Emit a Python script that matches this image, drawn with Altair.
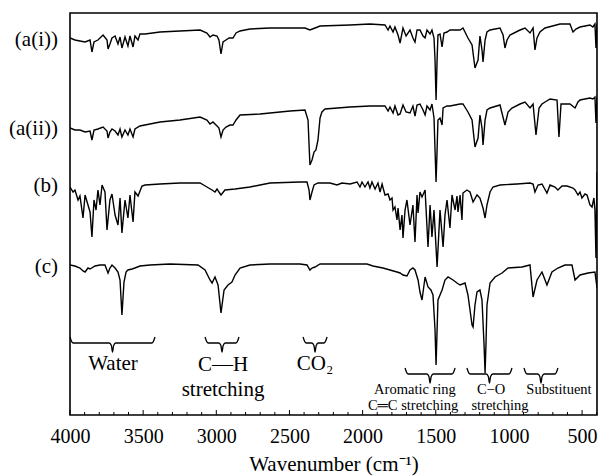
import altair as alt
import pandas as pd

# ---- spectra: (wavenumber cm^-1, relative transmittance in arbitrary units, offset per trace)
A_I = [(4000,377),(3966,375),(3932,374),(3897,373),(3863,375),(3850,363),(3836,373),(3809,375),
       (3774,380),(3747,375),(3740,366),(3727,371),(3713,377),(3692,379),(3672,371),(3658,378),
       (3645,367),(3624,378),(3604,369),(3590,379),(3569,368),(3556,379),(3535,375),(3522,381),
       (3487,381),(3385,383),(3248,384),(3111,385),(3064,382),(3043,378),(3023,380),(2995,379),
       (2982,375),(2968,361),(2954,373),(2934,375),(2913,377),(2886,377),(2865,382),(2838,384),
       (2770,386),(2633,387),(2428,387),(2394,387),(2360,385),(2325,387),(2291,389),(2086,390),
       (1950,391),(1847,390),(1826,385),(1813,389),(1792,383),(1779,388),(1758,380),(1744,372),
       (1724,387),(1703,379),(1676,385),(1656,377),(1642,373),(1628,385),(1608,385),(1587,379),
       (1573,377),(1560,385),(1539,381),(1526,385),(1512,377),(1505,355),(1498,315),(1491,355),
       (1485,380),(1471,381),(1457,368),(1444,382),(1423,383),(1403,385),(1368,385),(1334,385),
       (1314,387),(1280,377),(1252,370),(1232,347),(1211,355),(1198,379),(1184,365),(1177,353),
       (1163,375),(1150,383),(1129,385),(1061,387),(1040,380),(1027,367),(1013,375),(993,380),
       (924,385),(890,387),(856,382),(835,387),(822,365),(808,377),(788,383),(753,387),(651,391),
       (583,391),(562,383),(542,386),(514,388),(480,389),(446,390),(426,388),(412,391),(405,367),
       (398,391)]

A_II = [(4000,287),(3966,285),(3932,285),(3897,283),(3863,284),(3850,275),(3836,285),(3809,286),
        (3774,288),(3747,284),(3740,277),(3727,283),(3713,286),(3692,284),(3672,280),(3658,286),
        (3645,278),(3624,285),(3604,280),(3590,286),(3569,278),(3556,286),(3522,289),(3385,293),
        (3248,295),(3111,298),(3064,295),(3043,291),(3023,293),(2995,289),(2982,287),(2968,278),
        (2954,285),(2934,288),(2906,290),(2886,290),(2865,295),(2838,300),(2701,301),(2496,304),
        (2394,305),(2373,295),(2366,270),(2360,250),(2346,255),(2332,263),(2319,265),(2305,275),
        (2291,297),(2278,303),(2257,306),(2086,308),(1950,309),(1847,309),(1826,304),(1813,308),
        (1792,302),(1779,309),(1758,300),(1744,301),(1724,310),(1703,303),(1676,302),(1656,309),
        (1642,299),(1628,310),(1608,311),(1587,305),(1573,300),(1560,309),(1539,305),(1526,311),
        (1512,297),(1505,265),(1498,233),(1491,265),(1485,295),(1471,297),(1457,290),(1450,307),
        (1423,309),(1403,309),(1368,310),(1334,311),(1314,311),(1280,303),(1252,295),(1232,268),
        (1211,277),(1198,300),(1184,287),(1177,270),(1163,295),(1150,305),(1129,307),(1061,310),
        (1027,290),(1006,303),(979,307),(924,311),(890,313),(856,307),(835,311),(815,280),
        (794,307),(774,311),(753,313),(719,316),(671,315),(658,278),(644,311),(583,311),(548,307),
        (528,313),(514,315),(480,316),(446,317),(426,316),(412,318),(405,292),(398,318)]

B = [(4000,228),(3979,223),(3966,225),(3945,215),(3932,219),(3911,197),(3897,220),(3877,210),
     (3863,203),(3850,178),(3836,215),(3822,205),(3809,225),(3795,210),(3781,230),(3761,223),
     (3747,185),(3727,215),(3713,221),(3692,200),(3672,190),(3658,217),(3645,182),(3624,215),
     (3604,197),(3590,220),(3569,193),(3556,223),(3535,219),(3508,229),(3487,230),(3385,231),
     (3248,232),(3111,232),(3064,228),(3029,225),(3009,223),(2995,226),(2982,223),(2968,220),
     (2941,225),(2872,226),(2770,228),(2701,230),(2633,232),(2428,233),(2380,233),(2366,225),
     (2360,215),(2346,223),(2332,230),(2305,232),(2223,232),(2175,230),(2141,232),(2086,231),
     (2038,233),(2018,228),(2004,233),(1984,228),(1963,233),(1950,227),(1936,233),(1915,226),
     (1895,232),(1881,223),(1867,231),(1847,220),(1826,221),(1813,215),(1799,217),(1792,205),
     (1779,208),(1765,195),(1758,207),(1744,185),(1731,200),(1724,177),(1710,205),(1697,215),
     (1676,190),(1656,210),(1642,173),(1628,220),(1621,202),(1608,223),(1594,218),(1573,225),
     (1553,168),(1539,210),(1526,178),(1512,205),(1491,148),(1471,205),(1450,168),(1437,200),
     (1423,215),(1403,187),(1389,220),(1368,205),(1355,219),(1348,203),(1334,220),(1321,195),
     (1314,222),(1287,225),(1266,223),(1245,213),(1218,220),(1198,217),(1177,207),(1163,197),
     (1150,210),(1129,223),(1109,228),(1061,230),(945,231),(856,232),(835,231),(822,223),
     (801,230),(774,231),(740,222),(719,230),(685,228),(665,225),(637,229),(603,229),(562,227),
     (548,225),(528,220),(514,223),(501,217),(480,221),(466,220),(446,210),(432,208),(419,217),
     (412,205),(405,157),(398,243)]

C = [(4000,150),(3966,149),(3932,147),(3911,144),(3897,143),(3877,147),(3863,146),(3829,149),
     (3795,150),(3761,150),(3740,142),(3727,147),(3713,150),(3692,147),(3672,143),(3658,135),
     (3645,100),(3631,133),(3617,143),(3604,145),(3576,146),(3556,147),(3522,149),(3453,150),
     (3317,151),(3125,150),(3077,145),(3043,135),(3029,132),(3009,138),(2988,130),(2968,102),
     (2947,125),(2920,130),(2893,133),(2872,140),(2838,147),(2770,150),(2633,151),(2428,151),
     (2380,150),(2360,145),(2346,147),(2325,148),(2291,151),(2155,151),(1970,151),(1929,149),
     (1861,147),(1813,145),(1765,143),(1744,142),(1724,140),(1697,139),(1676,145),(1656,147),
     (1642,145),(1621,135),(1608,123),(1594,115),(1573,138),(1553,128),(1533,125),(1519,120),
     (1505,85),(1498,50),(1491,85),(1485,115),(1457,125),(1437,135),(1416,138),(1382,135),
     (1355,132),(1334,130),(1300,132),(1280,120),(1266,105),(1252,90),(1245,88),(1232,110),
     (1218,123),(1198,125),(1184,115),(1170,70),(1163,42),(1157,70),(1150,110),(1129,132),
     (1095,138),(1047,142),(1006,147),(911,148),(856,150),(835,118),(808,135),(774,143),
     (740,130),(706,143),(665,147),(617,150),(569,150),(548,135),(514,140),(459,142),(412,143),
     (398,127)]

SERIES = ["a(i)", "a(ii)", "b", "c"]
SERIES_DATA = [A_I, A_II, B, C]
SERIES_LABELS = ["(a(i))", "(a(ii))", "(b)", "(c)"]
LABEL_LEVEL = [369, 280, 223, 142]

# ---- band annotations
BRACE_FROM = [4000, 3077, 2407, 1710, 1287, 897]
BRACE_TO = [3419, 2845, 2243, 1368, 979, 665]
BRACE_TOP = [78, 78, 78, 47, 47, 47]

ANN_TEXT = ["Water", "C\u2014H", "stretching", "CO\u2082", "Aromatic ring", "C\u2550C stretching",
            "C\u2212O", "stretching", "Substituent"]
ANN_WN = [3706, 2954, 2954, 2325, 1642, 1655, 1122, 1061, 658]
ANN_LEVEL = [45, 44, 19, 45, 21, 5, 21, 5, 21]
ANN_SIZE = [21, 21, 21, 21, 14.5, 14.5, 14.5, 14.5, 14.5]

MAJOR_TICKS = [4000, 3500, 3000, 2500, 2000, 1500, 1000, 500]
MINOR_TICKS = [v for v in range(3900, 399, -100) if v % 500 != 0]

FONT = "Liberation Serif"

rows = []
for name, pts in zip(SERIES, SERIES_DATA):
    for i, (wn, t) in enumerate(pts):
        rows.append({"series": name, "wn": wn, "t": t, "i": i})
spec_df = pd.DataFrame(rows)

brows = []
for k, (x0, x1, top) in enumerate(zip(BRACE_FROM, BRACE_TO, BRACE_TOP)):
    mid = (x0 + x1) / 2
    bar, tip, c = top - 6, top - 15, 22
    shape = [(x0, top), (x0 - 0.5 * c, bar + 1.5), (x0 - c, bar), (mid + c, bar),
             (mid + 0.35 * c, bar - 2.5), (mid, tip), (mid - 0.35 * c, bar - 2.5),
             (mid - c, bar), (x1 + c, bar), (x1 + 0.5 * c, bar + 1.5), (x1, top)]
    for i, (wx, wy) in enumerate(shape):
        brows.append({"brace": k, "wn": wx, "t": wy, "i": i})
brace_df = pd.DataFrame(brows)

ann_df = pd.DataFrame({"text": ANN_TEXT, "wn": ANN_WN, "t": ANN_LEVEL, "fs": ANN_SIZE})
lab_df = pd.DataFrame({"text": SERIES_LABELS, "t": LABEL_LEVEL})
tick_df = pd.DataFrame({"wn": MAJOR_TICKS + MINOR_TICKS,
                        "len": [5] * len(MAJOR_TICKS) + [3] * len(MINOR_TICKS)})

xscale = alt.Scale(domain=[398, 4000], reverse=True, nice=False, zero=False)
yscale = alt.Scale(domain=[0, 402], nice=False, zero=False)

X = alt.X("wn:Q", scale=xscale,
          axis=alt.Axis(values=MAJOR_TICKS, title="Wavenumber (cm\u207b\u00b9)", grid=False,
                        domain=False, ticks=False, tickSize=0, labelPadding=27,
                        labelBaseline="alphabetic", labelFont=FONT, labelFontSize=20,
                        labelColor="black", labelFlush=False, format="d",
                        titleFont=FONT, titleFontSize=21, titleFontWeight="normal",
                        titleColor="black", titleBaseline="alphabetic", titleY=55))
Y = alt.Y("t:Q", scale=yscale, axis=None)

spectra = alt.Chart(spec_df).mark_line(color="black", strokeWidth=1.4, clip=True).encode(
    x=X, y=Y, detail="series:N", order="i:Q")

braces = alt.Chart(brace_df).mark_line(color="black", strokeWidth=1.3, interpolate="monotone").encode(
    x=alt.X("wn:Q", scale=xscale), y=alt.Y("t:Q", scale=yscale), detail="brace:N", order="i:Q")

ann = alt.Chart(ann_df).mark_text(font=FONT, color="black", baseline="alphabetic", align="center").encode(
    x=alt.X("wn:Q", scale=xscale), y=alt.Y("t:Q", scale=yscale), text="text:N",
    size=alt.Size("fs:Q", scale=None, legend=None))

labels = alt.Chart(lab_df).mark_text(font=FONT, fontSize=21, color="black", align="right",
                                     baseline="alphabetic").encode(
    x=alt.value(-12), y=alt.Y("t:Q", scale=yscale), text="text:N")

ticks = alt.Chart(tick_df).mark_rule(color="black", strokeWidth=1).encode(
    x=alt.X("wn:Q", scale=xscale), y=alt.Y("zero:Q", scale=yscale), y2="len:Q"
).transform_calculate(zero="0")

chart = alt.layer(spectra, braces, ann, labels, ticks).properties(
    width=527, height=402,
    background="white",
    autosize=alt.AutoSizeParams(type="none"),
    padding={"left": 70, "top": 13, "right": 3, "bottom": 61},
).configure_view(stroke="black", strokeWidth=1.6)

chart.save("out.html", embed_options={"renderer": "svg", "actions": False})
